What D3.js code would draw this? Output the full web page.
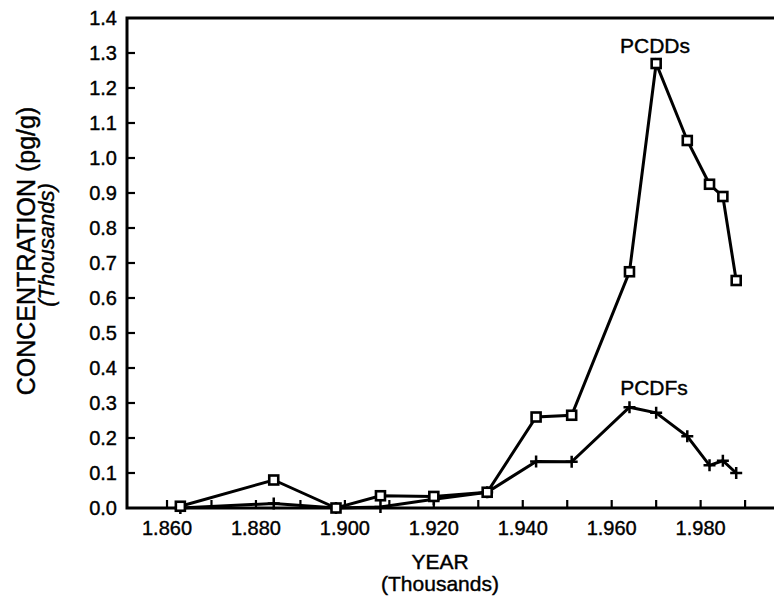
<!DOCTYPE html>
<html>
<head>
<meta charset="utf-8">
<style>
  body { margin: 0; background: #fff; }
  svg text { font-family: "Liberation Sans", Arial, sans-serif; fill: #000; stroke: #000; stroke-width: 0.4px; }
</style>
</head>
<body>
<svg width="774" height="600"></svg>
<script src="https://d3js.org/d3.v7.min.js"></script>
<script>
// sample years (in thousands, as the axis shows them)
const years = [1.863, 1.884, 1.898, 1.908, 1.920, 1.932, 1.943, 1.951, 1.964, 1.970, 1.977, 1.982, 1.985, 1.988];
// concentrations, pg/g in thousands
const pcdds = [0.005, 0.080, 0.000, 0.035, 0.033, 0.045, 0.260, 0.265, 0.675, 1.270, 1.050, 0.925, 0.890, 0.650];
const pcdfs = [0.000, 0.013, 0.000, 0.003, 0.025, 0.045, 0.133, 0.132, 0.288, 0.272, 0.205, 0.122, 0.135, 0.100];
const xTicks = [1.860, 1.870, 1.880, 1.890, 1.900, 1.910, 1.920, 1.930, 1.940, 1.950, 1.960, 1.970, 1.980, 1.990];
const xLabels = [1.860, 1.880, 1.900, 1.920, 1.940, 1.960, 1.980];
const yTicks = d3.range(0, 1.41, 0.1);

const svg = d3.select("svg");
const plotL = 127, plotT = 18, plotB = 508, plotR = 774;

const x = d3.scaleLinear().domain([1.851, 1.9965]).range([plotL, plotR]);
const y = d3.scaleLinear().domain([0, 1.4]).range([plotB, plotT]);

// frame: left axis, bottom axis, top line
svg.append("path")
    .attr("d", `M${plotR},${plotT}H${plotL}V${plotB}H${plotR}`)
    .attr("fill", "none").attr("stroke", "#000").attr("stroke-width", 3);

// y ticks (inside)
svg.append("g").selectAll("line")
    .data(yTicks.slice(1, -1))
    .enter().append("line")
    .attr("x1", plotL).attr("x2", plotL + 8)
    .attr("y1", d => y(d)).attr("y2", d => y(d))
    .attr("stroke", "#000").attr("stroke-width", 2.2);

svg.append("g").selectAll("text")
    .data(yTicks)
    .enter().append("text")
    .attr("x", plotL - 10).attr("y", d => y(d) + 7)
    .attr("text-anchor", "end")
    .attr("font-size", 20)
    .text(d => d3.format(".1f")(d));

// x ticks (inside)
svg.append("g").selectAll("line")
    .data(xTicks)
    .enter().append("line")
    .attr("x1", d => x(d)).attr("x2", d => x(d))
    .attr("y1", plotB).attr("y2", plotB - 8)
    .attr("stroke", "#000").attr("stroke-width", 2.2);

svg.append("g").selectAll("text")
    .data(xLabels)
    .enter().append("text")
    .attr("x", d => x(d)).attr("y", plotB + 27)
    .attr("text-anchor", "middle")
    .attr("font-size", 20)
    .text(d => d3.format(".3f")(d));

// axis titles
svg.append("text").attr("x", 440).attr("y", 569)
    .attr("text-anchor", "middle").attr("font-size", 21).text("YEAR");
svg.append("text").attr("x", 440).attr("y", 591)
    .attr("text-anchor", "middle").attr("font-size", 21).text("(Thousands)");

svg.append("text")
    .attr("transform", "translate(35,251) rotate(-90)")
    .attr("text-anchor", "middle").attr("font-size", 25)
    .text("CONCENTRATION (pg/g)");
svg.append("text")
    .attr("transform", "translate(54,245) rotate(-90)")
    .attr("text-anchor", "middle").attr("font-size", 22)
    .attr("font-style", "italic")
    .text("(Thousands)");

// series
const line = d3.line().x(d => x(d[0])).y(d => y(d[1]));
const ddData = years.map((t, i) => [t, pcdds[i]]);
const dfData = years.map((t, i) => [t, pcdfs[i]]);

svg.append("path").datum(dfData).attr("d", line)
    .attr("fill", "none").attr("stroke", "#000").attr("stroke-width", 3);
svg.append("path").datum(ddData).attr("d", line)
    .attr("fill", "none").attr("stroke", "#000").attr("stroke-width", 3);

// plus markers
svg.append("g").selectAll("path")
    .data(dfData)
    .enter().append("path")
    .attr("d", d => `M${x(d[0]) - 6},${y(d[1])}h12M${x(d[0])},${y(d[1]) - 6}v12`)
    .attr("stroke", "#000").attr("stroke-width", 2.5);

// square markers
svg.append("g").selectAll("rect")
    .data(ddData)
    .enter().append("rect")
    .attr("x", d => x(d[0]) - 4.5).attr("y", d => y(d[1]) - 4.5)
    .attr("width", 9).attr("height", 9)
    .attr("fill", "#fff").attr("stroke", "#000").attr("stroke-width", 2.6);

// series labels
svg.append("text").attr("x", 655).attr("y", 53)
    .attr("text-anchor", "middle").attr("font-size", 21).text("PCDDs");
svg.append("text").attr("x", 654).attr("y", 395)
    .attr("text-anchor", "middle").attr("font-size", 21).text("PCDFs");
</script>
</body>
</html>
